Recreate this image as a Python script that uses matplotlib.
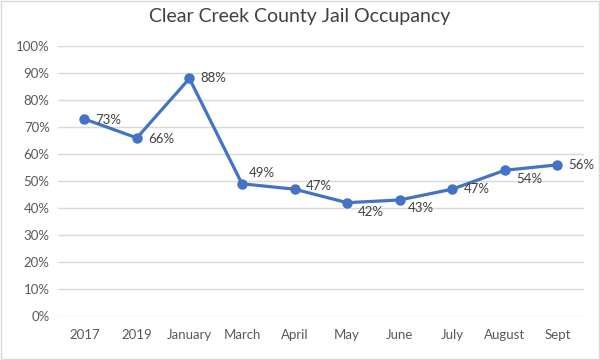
import matplotlib.pyplot as plt
from matplotlib.patches import Rectangle

# Categories and occupancy (%)
periods = ["2017", "2019", "January", "March", "April", "May", "June", "July", "August", "Sept"]
occupancy = [73, 66, 88, 49, 47, 42, 43, 47, 54, 56]
y_ticks = list(range(0, 101, 10))

# label nudges (points): x right, y up
label_dx = [8, 8, 8, 5, 8, 8, 6, 8, 8, 8]
label_dy = [-1, -1, 0, 8, 2, -7, -6, 0, -6, 0]

plt.rcParams['font.family'] = ['Lato', 'DejaVu Sans']

fig = plt.figure(figsize=(6, 3.6), dpi=100)
ax = fig.add_axes([0.0967, 0.122, 0.876, 0.75])

x = list(range(len(periods)))
ax.plot(x, occupancy, color='#4472C4', linewidth=2.3, marker='o', markersize=6.5,
        solid_capstyle='round', zorder=3)

for xi, v, dx, dy in zip(x, occupancy, label_dx, label_dy):
    ax.annotate(f'{v}%', (xi, v), xytext=(dx, dy), textcoords='offset points',
                ha='left', va='center', fontsize=9.5, color='#404040')

ax.set_xlim(-0.5, len(periods) - 0.5)
ax.set_ylim(0, 100)
ax.set_yticks(y_ticks)
ax.set_yticklabels([f'{t}%' for t in y_ticks])
ax.set_xticks(x)
ax.set_xticklabels(periods)
ax.tick_params(length=0, labelsize=9.5, labelcolor='#595959')
ax.tick_params(axis='x', pad=9)
ax.tick_params(axis='y', pad=6)

ax.grid(axis='y', color='#D9D9D9', linewidth=1)
ax.set_axisbelow(True)
for s in ax.spines.values():
    s.set_visible(False)

fig.text(0.5, 0.955, "Clear Creek County Jail Occupancy", ha='center', va='center',
         fontsize=14, color='#404040')

fig.patches.append(Rectangle((0.001, 0.002), 0.997, 0.996, transform=fig.transFigure,
                             fill=False, edgecolor='#D9D9D9', linewidth=1))

fig.savefig('out.png', dpi=100)
